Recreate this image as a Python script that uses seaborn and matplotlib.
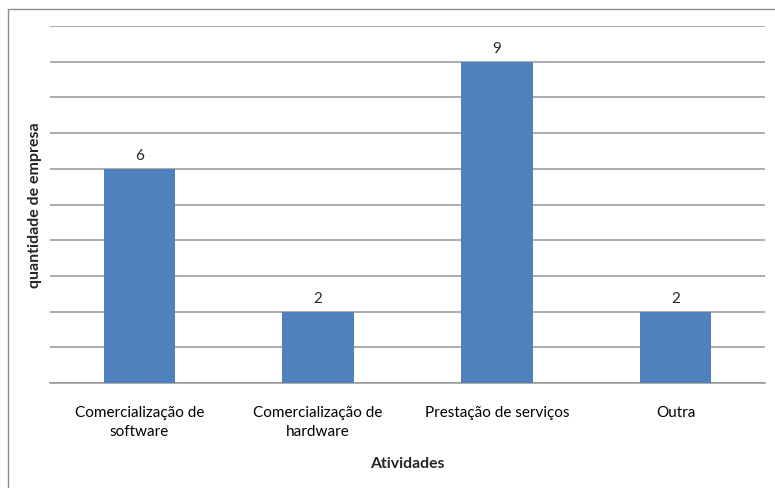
import matplotlib
matplotlib.use("Agg")
import matplotlib.pyplot as plt
import seaborn as sns
import pandas as pd
from matplotlib.patches import Rectangle

categories = ["Comercialização de\nsoftware", "Comercialização de\nhardware",
              "Prestação de serviços", "Outra"]
values = [6, 2, 9, 2]

sns.set_theme(style="white")
plt.rcParams["font.family"] = ["Lato", "DejaVu Sans"]

df = pd.DataFrame({"atividade": categories, "quantidade": values})

fig = plt.figure(figsize=(7.75, 4.89), dpi=100)
ax = fig.add_axes([50 / 775, 1 - 384 / 489, 715 / 775, (384 - 27) / 489])

sns.barplot(data=df, x="atividade", y="quantidade", color="#4F81BD",
            saturation=1, width=0.4, ax=ax, zorder=3, edgecolor="none", linewidth=0)

ax.set_ylim(0, 10)
ax.set_xlim(-0.5, len(categories) - 0.5)
ax.set_yticks(range(0, 11))
ax.set_yticklabels([])
ax.tick_params(axis="y", length=0)
ax.yaxis.grid(True, color="#969696", linewidth=1.1)
ax.set_axisbelow(True)

# category separators as ticks on the x axis
ax.set_xticks([i - 0.5 for i in range(len(categories) + 1)], minor=True)
ax.tick_params(axis="x", which="minor", length=5, color="#969696", width=1.1, direction="out")
ax.tick_params(axis="x", which="major", length=0, pad=16, labelsize=11, colors="black")
ax.set_xticks(range(len(categories)))
ax.set_xticklabels(categories, linespacing=1.45)

for s in ["top", "right", "left"]:
    ax.spines[s].set_visible(False)
ax.spines["bottom"].set_color("#969696")
ax.spines["bottom"].set_linewidth(1.1)

for i, v in enumerate(values):
    ax.annotate(str(v), (i, v), xytext=(0, 5), textcoords="offset points",
                ha="center", va="bottom", fontsize=11)

ax.set_xlabel("Atividades", fontweight="bold", fontsize=11.3, labelpad=13)
ax.set_ylabel("quantidade de empresa", fontweight="bold", fontsize=11.5, labelpad=2)

# outer chart frame
fig.patches.append(Rectangle((7.5 / 775, -0.1), 1.2, 1 - 9.5 / 489 + 0.1,
                             transform=fig.transFigure, fill=False,
                             edgecolor="#8c8c8c", linewidth=1.0))

fig.savefig("out.png", dpi=100)
